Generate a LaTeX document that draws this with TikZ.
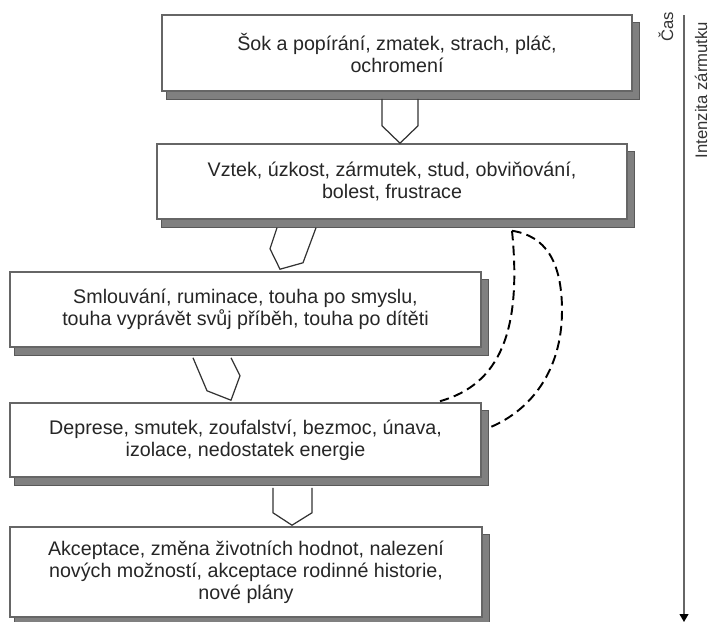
\documentclass[tikz,border=0pt]{standalone}
\usepackage{fontspec}
\setmainfont{Liberation Sans}
\usetikzlibrary{calc,backgrounds,arrows.meta}

\begin{document}
\begin{tikzpicture}[x=0.02cm,y=-0.02cm,
    stage/.style={draw=black!60,line width=0.9pt,fill=white,align=center,
      text=black!85,inner sep=0pt,font=\fontsize{11.2}{12.6}\selectfont},
    stageshadow/.style={fill=black!50,draw=black!65,line width=0.5pt},
    blockarrow/.style={draw=black!80,line width=0.7pt,line join=miter},
    backloop/.style={dash pattern=on 5.5pt off 3pt,line width=1.1pt},
    axislabel/.style={rotate=90,text=black!80,inner sep=0pt,
      font=\fontsize{9.5}{11}\selectfont}]
    \useasboundingbox (0,0) rectangle (714,622);

    \node [stage,minimum width=9.4cm,minimum height=1.52cm] (shock)
    at (397,53) {Šok a popírání, zmatek, strach, pláč,\\ ochromení};

    \node [stage,minimum width=9.4cm,minimum height=1.5cm] (anger)
    at (392,181.5) {Vztek, úzkost, zármutek, stud, obviňování,\\ bolest, frustrace};

    \node [stage,minimum width=9.42cm,minimum height=1.5cm] (bargain)
    at (245.5,309.5) {Smlouvání, ruminace, touha po smyslu,\\ touha vyprávět svůj příběh, touha po dítěti};

    \node [stage,minimum width=9.42cm,minimum height=1.48cm] (depress)
    at (245.5,440) {Deprese, smutek, zoufalství, bezmoc, únava,\\ izolace, nedostatek energie};

    \node [stage,minimum width=9.44cm,minimum height=1.8cm] (accept)
    at (246,572) {Akceptace, změna životních hodnot, nalezení\\ nových možností, akceptace rodinné historie,\\ nové plány};

    % shadows behind the boxes
    \begin{scope}[on background layer]
      \foreach \stagename in {shock,anger,bargain,depress,accept}
        \draw [stageshadow] ($(\stagename.south west)+(5,8)$) rectangle ($(\stagename.north east)+(7,8)$);
    \end{scope}

    \draw [blockarrow] ($(shock.south)+(-15,7)$) -- ++(0,27)
    -- ($(anger.north)+(8,0)$) -- ($(shock.south)+(21,34)$) -- ++(0,-27);

    \draw [blockarrow] ($(anger.south)+(-115,8)$) -- ($(anger.south)+(-122,29)$)
    -- ($(bargain.north)+(34.5,-2)$) -- ($(anger.south)+(-89,43)$)
    -- ($(anger.south)+(-76,8)$);

    \draw [blockarrow] ($(bargain.south)+(-52.5,10)$) -- ($(bargain.south)+(-38.5,43)$)
    -- ($(depress.north)+(-14.5,-2)$) -- ($(bargain.south)+(-5.5,28)$)
    -- ($(bargain.south)+(-14.5,10)$);

    \draw [blockarrow] ($(depress.south)+(27.5,10)$) -- ++(0,25)
    -- ($(accept.north)+(46,-1)$) -- ($(depress.south)+(66.5,35)$) -- ++(0,-25);

    \coordinate (loopstart) at ($(anger.south)+(120,11)$);
    \coordinate (loopturn) at ($(loopstart)+(50,80)$);
    \coordinate (loopin) at ($(depress.north)+(194.5,-1)$);
    \coordinate (loopout) at ($(depress.east)+(9,-13)$);

    \draw [backloop] (loopstart) .. controls +(10,100) and +(60,-17) .. (loopin);
    \draw [backloop] (loopstart) .. controls +(33,5) and +(0,-50) .. (loopturn)
    .. controls +(0,60) and +(40,-17) .. (loopout);

    \coordinate (axistop) at (684,15);
    \coordinate (axisbot) at (684,622);
    \draw [black!60,line width=0.8pt,-{Triangle[width=5pt,length=4.5pt,black]}]
    (axistop) -- (axisbot);

    \node [axislabel] (time) at (666,27) {Čas};
    \node [axislabel] (intensity) at (701,90) {Intenzita zármutku};
  \end{tikzpicture}
\end{document}
